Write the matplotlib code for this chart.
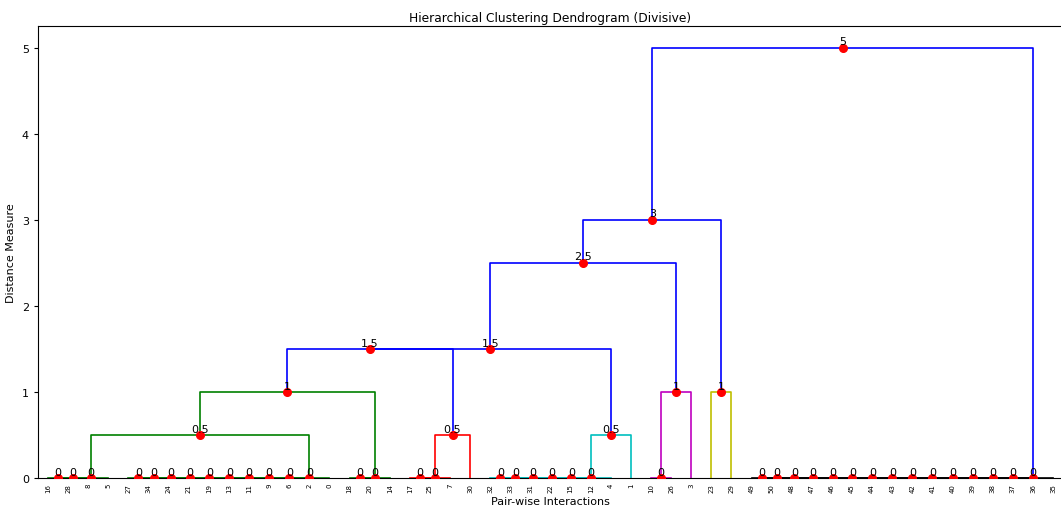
import numpy as np
import matplotlib
matplotlib.use('Agg')
import matplotlib.pyplot as plt

#--- Data ---------------------------------------------------------------------
# linkage rows: [child_a, child_b, distance]; ids < 51 are leaves, ids >= 51 are merged clusters
n_leaves = 51
links = [
    [16, 28, 0], [51, 8, 0], [52, 5, 0],
    [27, 34, 0], [54, 24, 0], [55, 21, 0], [56, 19, 0], [57, 13, 0],
    [58, 11, 0], [59, 9, 0], [60, 6, 0], [61, 2, 0], [62, 0, 0],
    [18, 20, 0], [64, 14, 0],
    [17, 25, 0], [66, 7, 0],
    [32, 33, 0], [68, 31, 0], [69, 22, 0], [70, 15, 0], [71, 12, 0], [72, 4, 0],
    [10, 26, 0],
    [49, 50, 0], [75, 48, 0], [76, 47, 0], [77, 46, 0], [78, 45, 0], [79, 44, 0],
    [80, 43, 0], [81, 42, 0], [82, 41, 0], [83, 40, 0], [84, 39, 0], [85, 38, 0],
    [86, 37, 0], [87, 36, 0], [88, 35, 0],
    [53, 63, 0.5], [67, 30, 0.5], [73, 1, 0.5],
    [90, 65, 1], [74, 3, 1], [23, 29, 1],
    [93, 91, 1.5], [96, 92, 1.5],
    [97, 94, 2.5],
    [98, 95, 3],
    [99, 89, 5],
]
color_threshold = 1.2
palette = ['g', 'r', 'c', 'm', 'y', 'k']
above_color = 'b'

#--- Build dendrogram coordinates ---------------------------------------------
root = n_leaves + len(links) - 1
xpos = {}
height = {}
order = []


def place(node):
    if node < n_leaves:
        xpos[node] = 5 + 10 * len(order)
        height[node] = 0.0
        order.append(node)
        return
    a, b, d = links[node - n_leaves]
    place(a)
    place(b)
    xpos[node] = (xpos[a] + xpos[b]) / 2.0
    height[node] = d


place(root)

# colour each sub-threshold cluster in left-to-right order
node_color = {}
count = [0]


def paint(node, col):
    if node < n_leaves:
        return
    a, b, d = links[node - n_leaves]
    if col is None and d < color_threshold:
        col = palette[count[0] % len(palette)]
        count[0] += 1
    node_color[node] = col if col is not None else above_color
    paint(a, col)
    paint(b, col)


paint(root, None)

#--- Plot ---------------------------------------------------------------------
fig = plt.figure(figsize=(10.61, 5.10), dpi=100)
ax = fig.add_axes([0.0358, 0.0608, 0.9662, 0.886])

for i, (a, b, d) in enumerate(links):
    node = n_leaves + i
    xs = [xpos[a], xpos[a], xpos[b], xpos[b]]
    ys = [height[a], d, d, height[b]]
    ax.plot(xs, ys, color=node_color[node], linewidth=1.2)

for i, (a, b, d) in enumerate(links):
    x = xpos[n_leaves + i]
    ax.plot(x, d, 'ro', markersize=5.5, zorder=3)
    ax.annotate('%.3g' % d, (x, d), xytext=(0, 1), textcoords='offset points',
                ha='center', va='bottom', fontsize=8, zorder=4)

ax.set_xlim(0, 10 * n_leaves)
ax.set_ylim(0, 5.25)
ax.set_xticks([5 + 10 * k for k in range(n_leaves)])
ax.set_xticklabels([str(v) for v in order], rotation=90, fontsize=5)
ax.tick_params(axis='y', labelsize=8, length=3)
ax.tick_params(axis='x', length=0)
ax.spines['right'].set_visible(False)

ax.set_title('Hierarchical Clustering Dendrogram (Divisive)', fontsize=8.8, pad=4)
ax.set_xlabel('Pair-wise Interactions', fontsize=8, labelpad=3)
ax.set_ylabel('Distance Measure', fontsize=8)

plt.savefig('out.png', dpi=100)
